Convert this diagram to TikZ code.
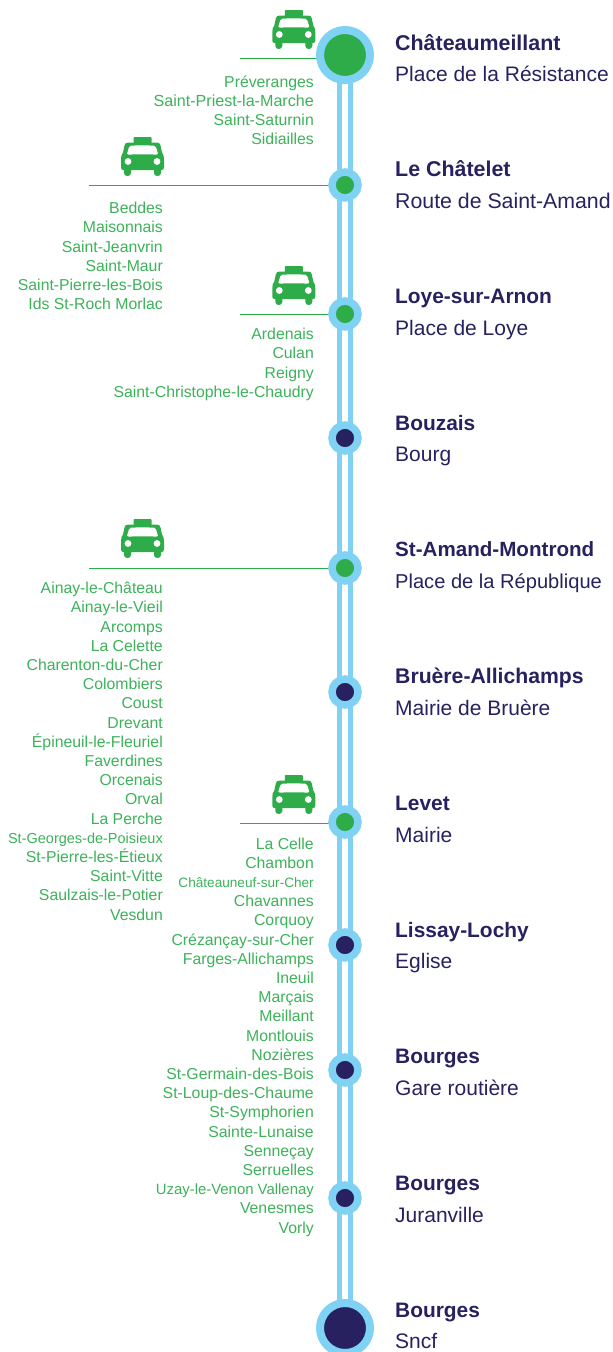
\documentclass[tikz,border=0pt]{standalone}
\usepackage{fontspec}
\setmainfont{Liberation Sans}
\definecolor{rail}{HTML}{7FD2F3}
\definecolor{grn}{HTML}{2FAC4A}
\definecolor{navy}{HTML}{27225F}
\definecolor{txtg}{HTML}{3DB25A}
\tikzset{
  stopbig/.style={circle,draw=rail,line width=8pt,minimum size=50pt,inner sep=0pt},
  stopsmall/.style={circle,draw=rail,line width=7.5pt,minimum size=26pt,inner sep=0pt},
  ongreen/.style={fill=grn},
  onnavy/.style={fill=navy},
  railline/.style={rail,line width=5.4pt},
  feeder/.style={grn,line width=1pt},
  towns/.style={anchor=north east,align=right,inner sep=0pt,text=txtg,font=\fontsize{15.8}{19.2}\selectfont},
  title/.style={anchor=base west,inner sep=0pt,text=navy,font=\fontsize{20.9}{24}\selectfont\bfseries},
  sub/.style={anchor=base west,inner sep=0pt,text=navy,font=\fontsize{21}{24}\selectfont},
  taxi/.pic={
    \fill[grn,rounded corners=0.8pt] (-9,-19.5) rectangle (9,-12);
    \fill[grn] (-14,-14) .. controls (-16.5,-14) and (-17.5,-13) .. (-18,-11) -- (-19.5,-4)
      .. controls (-21,-2.5) and (-21.5,0) .. (-21.5,3) -- (-21.5,11) .. controls (-21.5,13) and (-20.5,13.5) .. (-19,13.5)
      -- (-18.5,13.5) -- (-18.5,16.5) .. controls (-18.5,20.5) and (-11.5,20.5) .. (-11.5,16.5) -- (-11.5,13.5)
      -- (11.5,13.5) -- (11.5,16.5) .. controls (11.5,20.5) and (18.5,20.5) .. (18.5,16.5) -- (18.5,13.5)
      -- (19,13.5) .. controls (20.5,13.5) and (21.5,13) .. (21.5,11) -- (21.5,3)
      .. controls (21.5,0) and (21,-2.5) .. (19.5,-4) -- (18,-11) .. controls (17.5,-13) and (16.5,-14) .. (14,-14) -- cycle;
    \fill[white] (-11.5,-10.8) .. controls (-6,-11.2) and (6,-11.2) .. (11.5,-10.8)
      .. controls (13,-10.6) and (13.4,-10) .. (13.6,-9) -- (15.4,-3)
      .. controls (15.6,-2) and (15,-1.7) .. (14,-1.8) .. controls (6,-2.4) and (-6,-2.4) .. (-14,-1.8)
      .. controls (-15,-1.7) and (-15.6,-2) .. (-15.4,-3) -- (-13.6,-9)
      .. controls (-13.4,-10) and (-13,-10.6) .. (-11.5,-10.8) -- cycle;
    \fill[white] (-14.5,5) circle (3.4);
    \fill[white] (14.5,5) circle (3.4);
  }
}
\begin{document}
\begin{tikzpicture}[x=1pt,y=-1pt]
\useasboundingbox (0,0) rectangle (613,1352);
\fill[white] (0,0) rectangle (613,1352);
% feeder ends
\coordinate (f1) at (240,58.5);
\coordinate (f2) at (89,185);
\coordinate (f3) at (240,314);
\coordinate (f5) at (89,568);
\coordinate (f7) at (240,823);
\coordinate (t0) at (339.5,55);
\coordinate (t1) at (339.5,1328);
\coordinate (u0) at (350.5,55);
\coordinate (u1) at (350.5,1328);
\draw[railline] (t0) -- (t1);
\draw[railline] (u0) -- (u1);
\draw[feeder] (f1) -- (345,58.5);
\draw[feeder] (f2) -- (345,185);
\draw[feeder] (f3) -- (345,314);
\draw[feeder] (f5) -- (345,568);
\draw[feeder] (f7) -- (345,823);
% stops
\node[stopbig,ongreen] (s1) at (345,55) {};
\node[stopsmall,ongreen] (s2) at (345,185) {};
\node[stopsmall,ongreen] (s3) at (345,314) {};
\node[stopsmall,onnavy] (s4) at (345,438) {};
\node[stopsmall,ongreen] (s5) at (345,568) {};
\node[stopsmall,onnavy] (s6) at (345,692) {};
\node[stopsmall,ongreen] (s7) at (345,822) {};
\node[stopsmall,onnavy] (s8) at (345,945) {};
\node[stopsmall,onnavy] (s9) at (345,1070) {};
\node[stopsmall,onnavy] (s10) at (345,1198) {};
\node[stopbig,onnavy] (s11) at (345,1328) {};
% taxis
\pic at (293.8,29.5) {taxi};
\pic at (142.5,156.5) {taxi};
\pic at (293.8,285.5) {taxi};
\pic at (142.5,538.5) {taxi};
\pic at (293.8,794.5) {taxi};
% titles
\node[title,font=\fontsize{21.4}{24}\selectfont\bfseries] (a1) at (395,50) {Châteaumeillant};
\node[sub] (b1) at (395,81) {Place de la Résistance};
\node[title,font=\fontsize{21.4}{24}\selectfont\bfseries] (a2) at (395,176) {Le Châtelet};
\node[sub,font=\fontsize{21.3}{24}\selectfont] (b2) at (395,208) {Route de Saint-Amand};
\node[title] (a3) at (395,303) {Loye-sur-Arnon};
\node[sub] (b3) at (395,335) {Place de Loye};
\node[title] (a4) at (395,430) {Bouzais};
\node[sub] (b4) at (395,461) {Bourg};
\node[title,font=\fontsize{20.6}{24}\selectfont\bfseries] (a5) at (395,556) {St-Amand-Montrond};
\node[sub,font=\fontsize{20.1}{24}\selectfont] (b5) at (395,588) {Place de la République};
\node[title,font=\fontsize{21.2}{24}\selectfont\bfseries] (a6) at (395,683) {Bruère-Allichamps};
\node[sub] (b6) at (395,715) {Mairie de Bruère};
\node[title] (a7) at (395,810) {Levet};
\node[sub] (b7) at (395,842) {Mairie};
\node[title] (a8) at (395,937) {Lissay-Lochy};
\node[sub] (b8) at (395,968) {Eglise};
\node[title] (a9) at (395,1063) {Bourges};
\node[sub] (b9) at (395,1095) {Gare routière};
\node[title] (a10) at (395,1190) {Bourges};
\node[sub] (b10) at (395,1222) {Juranville};
\node[title] (a11) at (395,1317) {Bourges};
\node[sub] (b11) at (395,1348) {Sncf};
% town lists
\node[towns] (l1) at (314,75.5) {Préveranges\\{\fontsize{16.1}{19.2}\selectfont Saint-Priest-la-Marche}\\Saint-Saturnin\\Sidiailles};
\node[towns] (l2) at (163,202) {Beddes\\Maisonnais\\Saint-Jeanvrin\\Saint-Maur\\Saint-Pierre-les-Bois\\Ids St-Roch Morlac};
\node[towns] (l3) at (314,328) {Ardenais\\Culan\\Reigny\\Saint-Christophe-le-Chaudry};
\node[towns] (l5) at (163,582) {Ainay-le-Château\\Ainay-le-Vieil\\Arcomps\\La Celette\\Charenton-du-Cher\\Colombiers\\Coust\\Drevant\\Épineuil-le-Fleuriel\\Faverdines\\Orcenais\\Orval\\La Perche\\{\fontsize{14.5}{19.2}\selectfont St-Georges-de-Poisieux}\\St-Pierre-les-Étieux\\Saint-Vitte\\Saulzais-le-Potier\\Vesdun};
\node[towns] (l7) at (314,837.5) {La Celle\\Chambon\\{\fontsize{13.6}{19.2}\selectfont Châteauneuf-sur-Cher}\\Chavannes\\Corquoy\\Crézançay-sur-Cher\\Farges-Allichamps\\Ineuil\\Marçais\\Meillant\\Montlouis\\Nozières\\St-Germain-des-Bois\\St-Loup-des-Chaume\\St-Symphorien\\Sainte-Lunaise\\Senneçay\\Serruelles\\{\fontsize{14.9}{19.2}\selectfont Uzay-le-Venon Vallenay}\\Venesmes\\Vorly};
\end{tikzpicture}
\end{document}
